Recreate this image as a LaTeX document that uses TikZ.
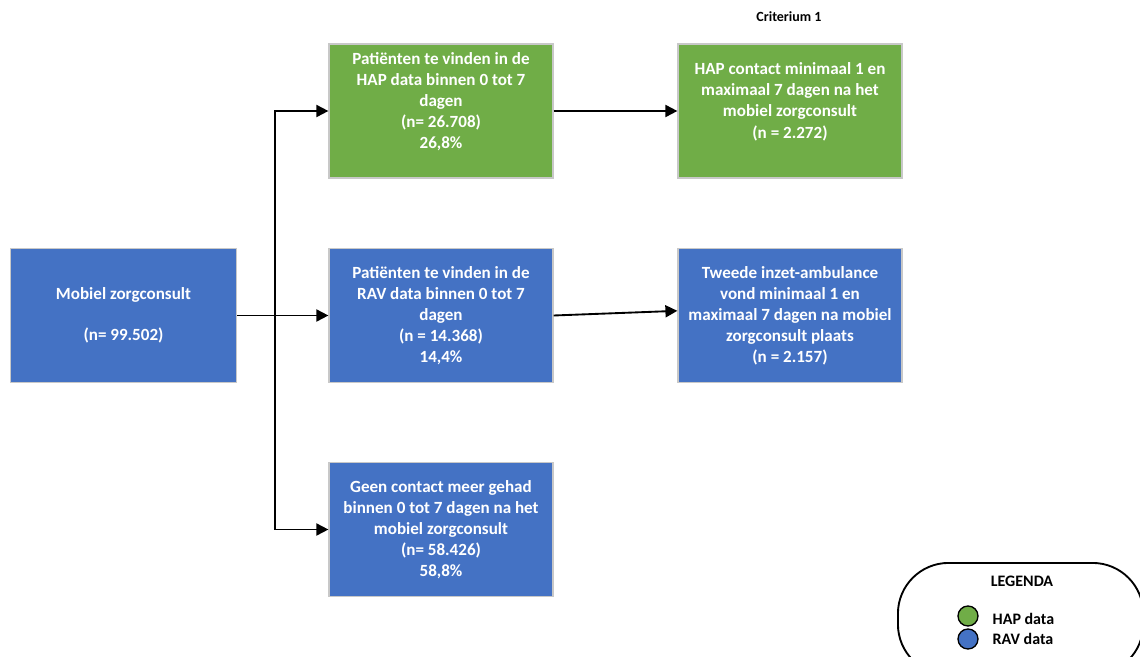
\documentclass[tikz,border=0pt]{standalone}
\usepackage{fontspec}
\setmainfont{Carlito}
\usetikzlibrary{arrows.meta}
\definecolor{hapgreen}{HTML}{70AD47}
\definecolor{ravblue}{HTML}{4472C4}
\definecolor{boxedge}{HTML}{C8C8C8}
\tikzset{
  box/.style={draw=boxedge, line width=0.9pt, minimum width=168pt, minimum height=100.5pt,
    align=center, text=white, inner sep=0pt,
    font=\bfseries\fontsize{12.8pt}{15.8pt}\selectfont},
  hapbox/.style={box, fill=hapgreen},
  ravbox/.style={box, fill=ravblue},
  conn/.style={line width=1.4pt, draw=black},
  arr/.style={conn, -{Triangle[length=9pt,width=9pt]}},
  legtext/.style={font=\bfseries\fontsize{12pt}{14pt}\selectfont, text=black},
  dot/.style={circle, draw=black, line width=1pt, minimum size=15pt, inner sep=0pt}
}
\begin{document}
\begin{tikzpicture}[x=0.75pt,y=-0.75pt]
\useasboundingbox (0,0) rectangle (1140,657);
\clip (0,0) rectangle (1140,657);
\fill[white] (0,0) rectangle (1140,657);

\node[ravbox, minimum width=170pt] (mob) at (123.5,315.5) {Mobiel zorgconsult\\[15pt](n= 99.502)};
\node[hapbox] (hap1) at (441,111) {Patiënten te vinden in de\\HAP data binnen 0 tot 7\\dagen\\(n= 26.708)\\26,8\%\\ \mbox{}};
\node[ravbox] (rav1) at (441,315.5) {Patiënten te vinden in de\\RAV data binnen 0 tot 7\\dagen\\(n = 14.368)\\14,4\%};
\node[ravbox] (geen) at (441,529.5) {Geen contact meer gehad\\binnen 0 tot 7 dagen na het\\mobiel zorgconsult\\(n= 58.426)\\58,8\%};
\node[hapbox] (hap2) at (790,111) {HAP contact minimaal 1 en\\maximaal 7 dagen na het\\mobiel zorgconsult\\(n = 2.272)\\ \mbox{}};
\node[ravbox] (rav2) at (790,315.5) {Tweede inzet-ambulance\\vond minimaal 1 en\\maximaal 7 dagen na mobiel\\zorgconsult plaats\\(n = 2.157)};

\node[font=\bfseries\fontsize{10.5pt}{12pt}\selectfont] (crit) at (789,17) {Criterium 1};

\coordinate (junc) at (275,315.5);
\draw[arr] (mob.east) -- (rav1.west);
\draw[arr] (junc) |- (hap1.west);
\draw[arr] (junc) |- (geen.west);
\draw[arr] (hap1.east) -- (hap2.west);
\draw[arr] (rav1.east) -- ([yshift=3.5pt]rav2.west);

% legend
\node[draw=black, line width=1.4pt, rounded corners=38pt, minimum width=184pt, minimum height=84pt, anchor=north west] (leg) at (897,562) {};
\node[legtext] (legt) at (1022,581) {LEGENDA};
\node[dot, fill=hapgreen] (dg) at (968,616) {};
\node[dot, fill=ravblue] (db) at (968,639) {};
\node[legtext, anchor=west] (lg) at (988,619) {HAP data};
\node[legtext, anchor=west] (lb) at (988,639) {RAV data};
\end{tikzpicture}
\end{document}
